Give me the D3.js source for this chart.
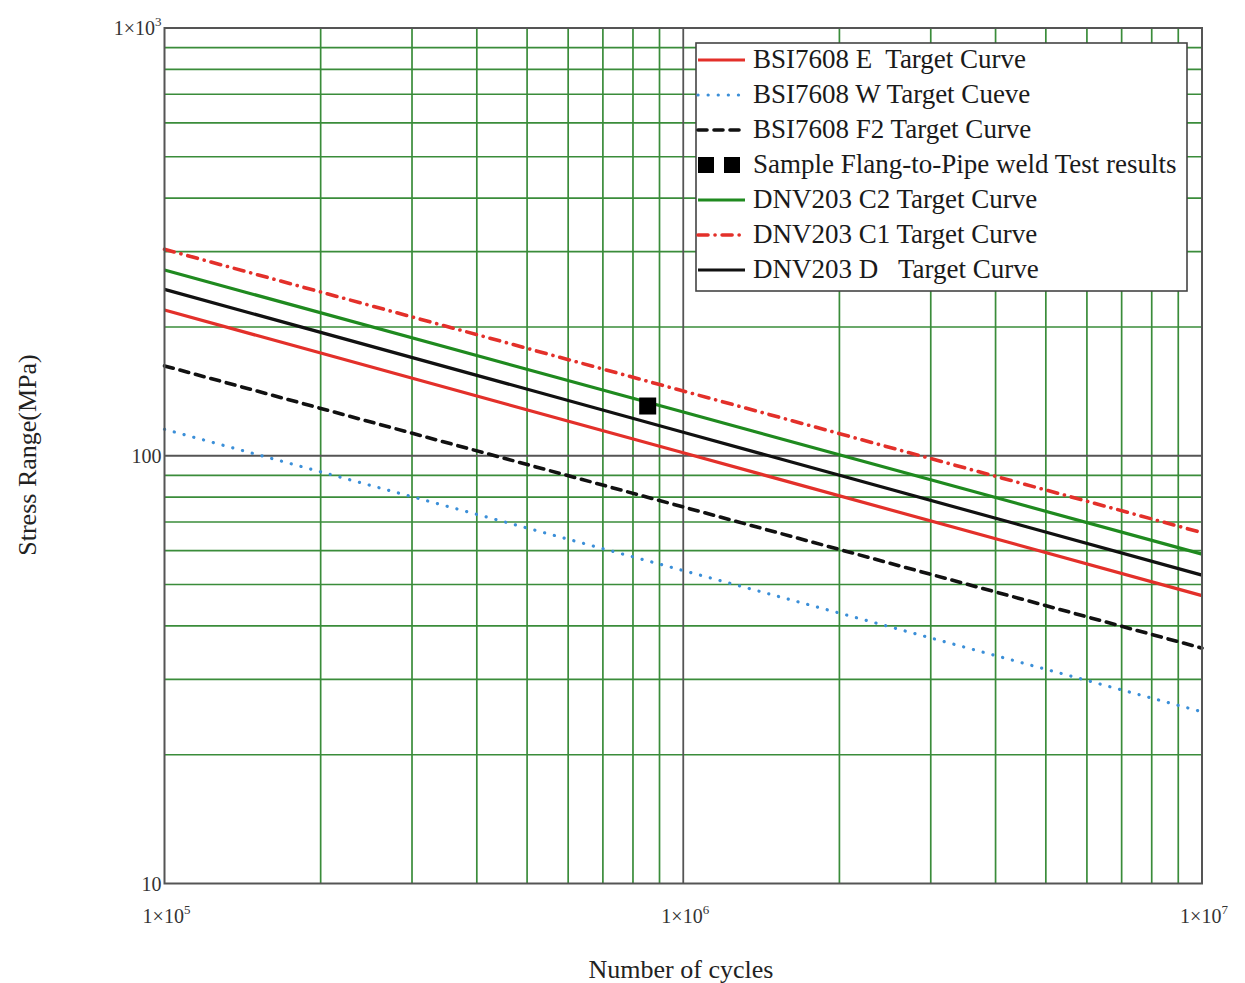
<!DOCTYPE html>
<html>
<head>
<meta charset="utf-8">
<script src="https://cdn.jsdelivr.net/npm/d3@7"></script>
<style>
  html, body { margin: 0; padding: 0; background: #ffffff; }
  svg { display: block; font-family: "Liberation Serif", "Times New Roman", serif; }
  text { white-space: pre; }
</style>
</head>
<body>
<svg id="chart" width="1245" height="983"></svg>
<script>
// ---- data ----
const cycles = [1e5, 1e6, 1e7];
const bsiE  = [219.1, 101.6, 47.1];
const bsiW  = [115.3, 53.9, 25.2];
const bsiF2 = [162.2, 75.9, 35.5];
const dnvC2 = [271.8, 126.5, 58.9];
const dnvC1 = [303.8, 141.7, 66.1];
const dnvD  = [244.9, 113.5, 52.6];
const testCycles = [854000];
const testStress = [130.7];

const xTickVals = [1e5, 1e6, 1e7];
const xTickExps = ["5", "6", "7"];
const yTickVals = [10, 100, 1000];
const yTickLabels = [["10", ""], ["100", ""], ["1×10", "3"]];

const seriesNames = [
  "BSI7608 E  Target Curve",
  "BSI7608 W Target Cueve",
  "BSI7608 F2 Target Curve",
  "Sample Flang-to-Pipe weld Test results",
  "DNV203 C2 Target Curve",
  "DNV203 C1 Target Curve",
  "DNV203 D   Target Curve"
];

(function () {
// ---- layout ----
const svg = d3.select("#chart");
const pL = 164.5, pR = 1202, pT = 28, pB = 883.5;

const x = d3.scaleLog().domain([1e5, 1e7]).range([pL, pR]);
const y = d3.scaleLog().domain([10, 1000]).range([pB, pT]);

const gridColor = "#3a8c3a";

// minor grid
const xMinor = [];
[1e5, 1e6].forEach(d => { for (let k = 2; k <= 9; k++) xMinor.push(d * k); });
const yMinor = [];
[10, 100].forEach(d => { for (let k = 2; k <= 9; k++) yMinor.push(d * k); });

const grid = svg.append("g");
grid.selectAll("line.vx").data(xMinor).join("line")
  .attr("x1", d => x(d)).attr("x2", d => x(d))
  .attr("y1", pT).attr("y2", pB)
  .attr("stroke", gridColor).attr("stroke-width", 1.7);
grid.selectAll("line.hy").data(yMinor).join("line")
  .attr("x1", pL).attr("x2", pR)
  .attr("y1", d => y(d)).attr("y2", d => y(d))
  .attr("stroke", gridColor).attr("stroke-width", 1.7);
// major grid
grid.append("line").attr("x1", x(1e6)).attr("x2", x(1e6)).attr("y1", pT).attr("y2", pB)
  .attr("stroke", "#555").attr("stroke-width", 1.8);
grid.append("line").attr("x1", pL).attr("x2", pR).attr("y1", y(100)).attr("y2", y(100))
  .attr("stroke", "#555").attr("stroke-width", 1.8);

// ---- series ----
const line = d3.line().x(d => x(d[0])).y(d => y(d[1]));
const zipS = vals => cycles.map((c, i) => [c, vals[i]]);

const styles = [
  { data: bsiE,  color: "#e3302a", width: 3.2, dash: null, cap: "butt" },
  { data: bsiW,  color: "#3b8fd8", width: 3.2, dash: "0.1,10", cap: "round" },
  { data: bsiF2, color: "#111111", width: 3.6, dash: "9,7", cap: "round" },
  null,
  { data: dnvC2, color: "#1f8a1f", width: 3.2, dash: null, cap: "butt" },
  { data: dnvC1, color: "#e3302a", width: 3.6, dash: "10,7,0.1,7", cap: "round" },
  { data: dnvD,  color: "#111111", width: 3.2, dash: null, cap: "butt" }
];

const plot = svg.append("g");
styles.forEach(s => {
  if (!s) return;
  plot.append("path").datum(zipS(s.data))
    .attr("d", line).attr("fill", "none")
    .attr("stroke", s.color).attr("stroke-width", s.width)
    .attr("stroke-linecap", s.cap)
    .attr("stroke-dasharray", s.dash);
});

// test point
plot.selectAll("rect.pt").data(testCycles.map((c, i) => [c, testStress[i]])).join("rect")
  .attr("x", d => x(d[0]) - 8.5).attr("y", d => y(d[1]) - 8.5)
  .attr("width", 17).attr("height", 17).attr("fill", "#000");

// ---- frame ----
svg.append("rect").attr("x", pL).attr("y", pT)
  .attr("width", pR - pL).attr("height", pB - pT)
  .attr("fill", "none").attr("stroke", "#555").attr("stroke-width", 2);

// ---- tick labels ----
const tickColor = "#333";
const yt = svg.append("g").attr("font-size", 20).attr("fill", tickColor);
yTickVals.forEach((v, i) => {
  const t = yt.append("text").attr("x", pL - 3).attr("y", y(v) + 7)
    .attr("text-anchor", "end");
  t.append("tspan").text(yTickLabels[i][0]);
  if (yTickLabels[i][1]) t.append("tspan").attr("dy", -9).attr("font-size", 13).text(yTickLabels[i][1]);
});

const xt = svg.append("g").attr("font-size", 20).attr("fill", tickColor);
xTickVals.forEach((v, i) => {
  const t = xt.append("text").attr("x", x(v) + 2).attr("y", 923)
    .attr("text-anchor", "middle");
  t.append("tspan").text("1×10");
  t.append("tspan").attr("dy", -9).attr("font-size", 13).text(xTickExps[i]);
});

// ---- axis titles ----
svg.append("text").attr("x", 681).attr("y", 978).attr("text-anchor", "middle")
  .attr("font-size", 26).attr("fill", "#222").text("Number of cycles");
svg.append("text").attr("transform", "translate(36,455) rotate(-90)")
  .attr("text-anchor", "middle").attr("font-size", 26).attr("fill", "#222")
  .text("Stress Range(MPa)");

// ---- legend ----
const lg = svg.append("g");
lg.append("rect").attr("x", 696).attr("y", 43).attr("width", 491).attr("height", 248)
  .attr("fill", "#fff").attr("stroke", "#444").attr("stroke-width", 1.6);
seriesNames.forEach((name, i) => {
  const yy = 60 + i * 35;
  const s = styles[i];
  if (s) {
    lg.append("line").attr("x1", 698).attr("x2", 745).attr("y1", yy).attr("y2", yy)
      .attr("stroke", s.color).attr("stroke-width", s.width)
      .attr("stroke-linecap", s.cap).attr("stroke-dasharray", s.dash);
  } else {
    lg.append("rect").attr("x", 698).attr("y", yy - 8).attr("width", 16).attr("height", 16).attr("fill", "#000");
    lg.append("rect").attr("x", 724).attr("y", yy - 8).attr("width", 16).attr("height", 16).attr("fill", "#000");
  }
  lg.append("text").attr("x", 753).attr("y", yy + 8).attr("font-size", 27)
    .attr("fill", "#1a1a1a").text(name);
});
})();
</script>
</body>
</html>
